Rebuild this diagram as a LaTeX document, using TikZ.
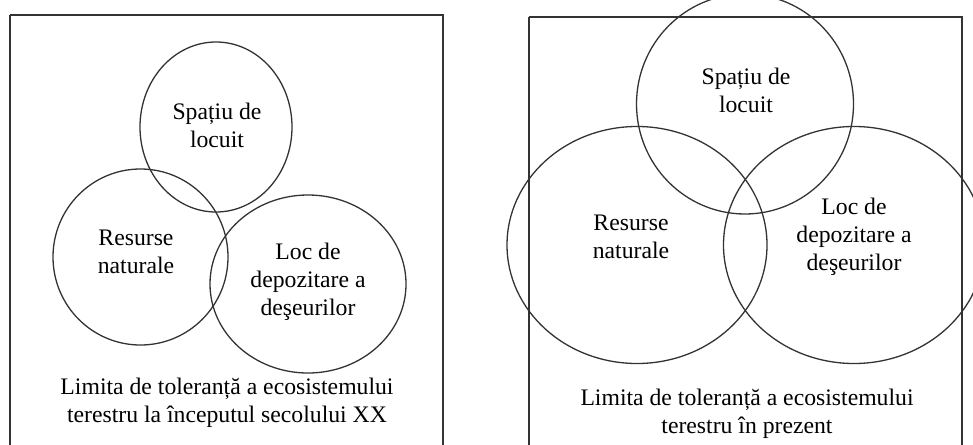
\documentclass[tikz,border=0pt]{standalone}
\usepackage{fontspec}
\setmainfont{Liberation Serif}
\usetikzlibrary{shapes.geometric}
\tikzset{
	x=1pt, y=-1pt,
	zona/.style={ellipse, draw=black!80, line width=1.3pt, inner sep=0pt, outer sep=0pt},
	cadru/.style={draw=black!80, line width=1.6pt},
	eticheta/.style={align=center, inner sep=0pt, font=\fontsize{23.7}{28}\selectfont}}
\begin{document}
\begin{tikzpicture}
		\useasboundingbox (0,0) rectangle (973,444);
		\clip (0,0) rectangle (973,444);
		
		% inceputul secolului XX
		\draw[cadru] (10,15) -- (443,15) -- (443,470) (10,470) -- (10,15);
		\node[zona, minimum width=152, minimum height=170] (sp1) at (216,127) {};
		\node[zona, minimum width=175, minimum height=176] (res1) at (140.5,257) {};
		\node[zona, minimum width=196, minimum height=178] (loc1) at (308,284) {};
		\node[eticheta] (tsp1) at (217,125) {Spațiu de\\locuit};
		\node[eticheta] (tres1) at (136,252) {Resurse\\naturale};
		\node[eticheta] (tloc1) at (308,282) {Loc de\\depozitare a\\deşeurilor};
		\node[eticheta] (lim1) at (227,403) {Limita de toleranță a ecosistemului\\terestru la începutul secolului XX};
		
		% in prezent
		\draw[cadru] (529,17) -- (962,17) -- (962,470) (529,470) -- (529,17);
		\node[zona, minimum width=217, minimum height=220] (sp2) at (745,104) {};
		\node[zona, minimum width=260, minimum height=237] (res2) at (637,245) {};
		\node[zona, minimum width=261, minimum height=237] (loc2) at (854,245) {};
		\node[eticheta] (tsp2) at (746,90) {Spațiu de\\locuit};
		\node[eticheta] (tres2) at (631,237) {Resurse\\naturale};
		\node[eticheta] (tloc2) at (854,237) {Loc de\\depozitare a\\deşeurilor};
		\node[eticheta] (lim2) at (747,414) {Limita de toleranță a ecosistemului\\terestru în prezent};
	\end{tikzpicture}
\end{document}
